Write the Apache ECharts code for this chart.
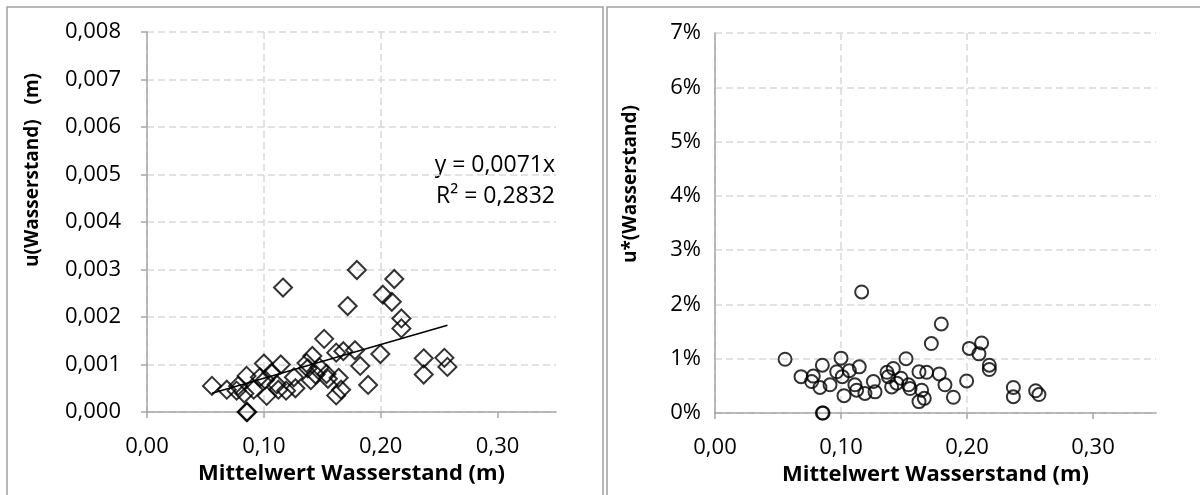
<!DOCTYPE html>
<html>
<head>
<meta charset="utf-8">
<title>Wasserstand – Unsicherheit</title>
<script src="https://cdn.jsdelivr.net/npm/echarts@6/dist/echarts.min.js"></script>
<style>
  html, body { margin: 0; padding: 0; background: #ffffff; }
  #chart { width: 1200px; height: 495px; }
</style>
</head>
<body>
<div id="chart"></div>
<script>
// Mittelwert Wasserstand (m) for each measurement
const meanLevel = [
  0.0556, 0.0683, 0.0780, 0.0767, 0.0833, 0.0852, 0.0913, 0.0966, 0.1000, 0.1010,
  0.1024, 0.0852, 0.0858, 0.1164, 0.1145, 0.1110, 0.1124, 0.1190, 0.1257, 0.1270,
  0.1376, 0.1415, 0.1402, 0.1442, 0.1476, 0.1516, 0.1548, 0.1619, 0.1680, 0.1780,
  0.1640, 0.1661, 0.1619, 0.1825, 0.1892, 0.1796, 0.1717, 0.2018, 0.2116, 0.2095,
  0.2177, 0.2177, 0.1997, 0.2368, 0.2368, 0.2545, 0.2571, 0.1066, 0.1365, 0.1536
];
// absolute uncertainty u(Wasserstand) in m
const uAbs = [
  0.00055, 0.00047, 0.00055, 0.00045, 0.00039, 0.00076, 0.00047, 0.00073, 0.00102, 0.00068,
  0.00034, 0.00000, 0.00000, 0.00262, 0.00100, 0.00058, 0.00047, 0.00045, 0.00073, 0.00050,
  0.00092, 0.00118, 0.00067, 0.00079, 0.00094, 0.00154, 0.00070, 0.00125, 0.00128, 0.00130,
  0.00072, 0.00047, 0.00035, 0.00097, 0.00057, 0.00299, 0.00223, 0.00247, 0.00280, 0.00232,
  0.00197, 0.00176, 0.00122, 0.00113, 0.00079, 0.00114, 0.00095, 0.00083, 0.00103, 0.00080
];
// relative uncertainty u*(Wasserstand) in %
const uRelPct = [
  0.99, 0.67, 0.68, 0.58, 0.47, 0.88, 0.52, 0.76, 1.01, 0.67,
  0.32, 0.00, 0.00, 2.23, 0.85, 0.52, 0.42, 0.36, 0.58, 0.39,
  0.67, 0.82, 0.48, 0.55, 0.64, 1.00, 0.45, 0.76, 0.75, 0.72,
  0.42, 0.27, 0.21, 0.52, 0.29, 1.64, 1.28, 1.19, 1.29, 1.09,
  0.88, 0.80, 0.59, 0.47, 0.30, 0.41, 0.34, 0.78, 0.75, 0.52
];
// x tick positions (axis runs on to 0.35 without a tick there)
const xTicks = [0, 0.1, 0.2, 0.3];
// linear trend through the origin
const trendSlope = 0.0071;
const trendR2 = 0.2832;
const xTitle = 'Mittelwert Wasserstand (m)';
const yTitleAbs = 'u(Wasserstand)   (m)';
const yTitleRel = 'u*(Wasserstand)';

const FONT = 'Open Sans';
const comma = (v, d) => v.toFixed(d).replace('.', ',');

const absPoints = meanLevel.map((x, i) => [x, uAbs[i]]);
const relPoints = meanLevel.map((x, i) => [x, uRelPct[i]]);
const xMin = Math.min(...meanLevel);
const xMax = Math.max(...meanLevel);
const trendPoints = [[xMin, trendSlope * xMin], [xMax, trendSlope * xMax]];

const axisGray = '#a6a6a6';
const gridStyle = { color: '#d9d9d9', width: 1.5, type: [7, 4] };

function xAxisFor(gridIndex) {
  return {
    gridIndex, type: 'value', min: 0, max: 0.35, interval: 0.1,
    name: xTitle, nameLocation: 'middle', nameGap: 50,
    nameTextStyle: { fontFamily: FONT, fontWeight: 'bold', fontSize: 22, color: '#000' },
    axisLine: { show: true, onZero: false, lineStyle: { color: axisGray, width: 1.5 } },
    axisTick: { show: true, inside: false, length: 6, customValues: xTicks, lineStyle: { color: axisGray, width: 1.5 } },
    axisLabel: {
      fontFamily: FONT, fontSize: 22, color: '#000', margin: 24,
      customValues: xTicks,
      formatter: v => comma(v, 2)
    },
    splitLine: { show: true, showMaxLine: false, lineStyle: gridStyle }
  };
}

const option = {
  backgroundColor: '#ffffff',
  animation: false,
  grid: [
    { left: 147, right: 644, top: 32, bottom: 83 },
    { left: 715, right: 44, top: 33, bottom: 82 }
  ],
  xAxis: [xAxisFor(0), xAxisFor(1)],
  yAxis: [
    {
      gridIndex: 0, type: 'value', min: 0, max: 0.008, interval: 0.001,
      axisLine: { show: true, lineStyle: { color: axisGray, width: 1.5 } },
      axisTick: { show: true, length: 6, lineStyle: { color: axisGray, width: 1.5 } },
      axisLabel: { fontFamily: FONT, fontSize: 22, color: '#000', margin: 26, formatter: v => comma(v, 3) },
      splitLine: { show: true, lineStyle: gridStyle }
    },
    {
      gridIndex: 1, type: 'value', min: 0, max: 7, interval: 1,
      axisLine: { show: true, lineStyle: { color: axisGray, width: 1.5 } },
      axisTick: { show: false },
      axisLabel: { fontFamily: FONT, fontSize: 22, color: '#000', margin: 14, formatter: v => Math.round(v) + '%' },
      splitLine: { show: true, lineStyle: gridStyle }
    }
  ],
  series: [
    {
      type: 'scatter', xAxisIndex: 0, yAxisIndex: 0, data: absPoints,
      symbol: 'diamond', symbolSize: 18,
      itemStyle: { color: 'rgba(0,0,0,0)', borderColor: '#000', borderWidth: 2 }
    },
    {
      type: 'line', xAxisIndex: 0, yAxisIndex: 0, data: trendPoints,
      symbol: 'none', lineStyle: { color: '#000', width: 1.5 }, z: 3
    },
    {
      type: 'scatter', xAxisIndex: 1, yAxisIndex: 1, data: relPoints,
      symbol: 'circle', symbolSize: 13,
      itemStyle: { color: 'rgba(0,0,0,0)', borderColor: '#000', borderWidth: 2 }
    }
  ],
  graphic: [
    // panel frames
    { type: 'rect', shape: { x: 7, y: 7, width: 596, height: 500 }, style: { fill: 'none', stroke: '#a0a0a0', lineWidth: 1.5 }, silent: true },
    { type: 'rect', shape: { x: 607, y: 7, width: 600, height: 500 }, style: { fill: 'none', stroke: '#a0a0a0', lineWidth: 1.5 }, silent: true },
    // vertical axis titles
    { type: 'text', x: 33, y: 170, rotation: Math.PI / 2,
      style: { text: yTitleAbs, fontFamily: FONT, fontWeight: 'bold', fontSize: 19, fill: '#000', align: 'center', verticalAlign: 'middle' } },
    { type: 'text', x: 631, y: 184, rotation: Math.PI / 2,
      style: { text: yTitleRel, fontFamily: FONT, fontWeight: 'bold', fontSize: 19, fill: '#000', align: 'center', verticalAlign: 'middle' } },
    // trend equation
    { type: 'text', x: 555, y: 165,
      style: { text: 'y = ' + comma(trendSlope, 4) + 'x', fontFamily: FONT, fontSize: 23, fill: '#000', align: 'right', verticalAlign: 'middle' } },
    { type: 'text', x: 555, y: 196,
      style: { text: 'R² = ' + comma(trendR2, 4), fontFamily: FONT, fontSize: 23, fill: '#000', align: 'right', verticalAlign: 'middle' } }
  ]
};

const chart = echarts.init(document.getElementById('chart'), null, { renderer: 'canvas' });
chart.setOption(option);
</script>
</body>
</html>
